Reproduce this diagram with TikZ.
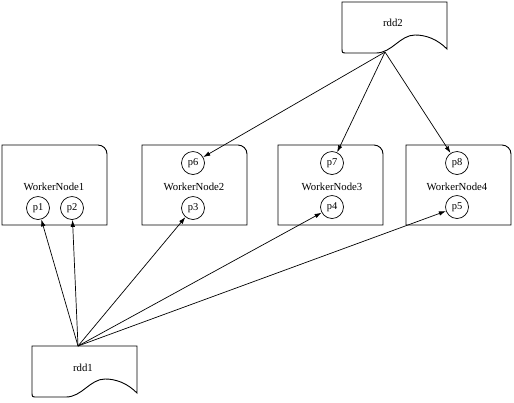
\documentclass[tikz,border=0pt]{standalone}
\usepackage{fontspec}
\setmainfont{Liberation Serif}
\usetikzlibrary{arrows.meta}
\tikzset{
  part/.style={circle,draw,line width=0.7bp,minimum size=23bp,inner sep=0pt,font=\fontsize{10.5}{12}\selectfont},
  lbl/.style={inner sep=0pt,font=\fontsize{10.8}{13}\selectfont},
  boxline/.style={line width=0.9bp},
  arr/.style={line width=0.7bp,-{Latex[length=7bp,width=4.5bp]}},
  docshape/.pic={
    \draw[boxline] (0,0) -- (105,0) -- (105,47) .. controls (95,37) and (84,33) .. (73,33)
      .. controls (58,33) and (50,51) .. (34,51) -- (5,51) .. controls (0,51) .. (0,46) -- cycle;
  }
}
\newcommand{\workerbox}[2]{%
  \draw[boxline] (#1,#2+80) -- (#1,#2) [rounded corners=9bp] -- (#1+105,#2) [sharp corners] -- (#1+105,#2+80) -- cycle;%
}
\begin{document}
\begin{tikzpicture}[x=1bp,y=-1bp]
\useasboundingbox (0,0) rectangle (514,402);
% worker boxes
\workerbox{2}{145}
\workerbox{142}{145}
\workerbox{278}{145}
\workerbox{406}{145}
% rdd shapes
\pic at (342,2) {docshape};
\pic at (32,346) {docshape};
\node[lbl] (rdd2) at (393,23) {rdd2};
\node[lbl] (rdd1) at (83,368) {rdd1};
\coordinate (o2) at (385,52);
\coordinate (o1) at (78,346);
% labels
\node[lbl] (wn1) at (54,187) {WorkerNode1};
\node[lbl] (wn2) at (194,187) {WorkerNode2};
\node[lbl] (wn3) at (332,187) {WorkerNode3};
\node[lbl] (wn4) at (457,187) {WorkerNode4};
% partitions
\node[part] (p1) at (38,208) {p1};
\node[part] (p2) at (72,208) {p2};
\node[part] (p6) at (193,163) {p6};
\node[part] (p3) at (193,208) {p3};
\node[part] (p7) at (332,163) {p7};
\node[part] (p4) at (332,207) {p4};
\node[part] (p8) at (457,163) {p8};
\node[part] (p5) at (457,207) {p5};
% arrows
\draw[arr] (o2) -- (p6);
\draw[arr] (o2) -- (p7);
\draw[arr] (o2) -- (p8);
\draw[arr] (o1) -- (p1);
\draw[arr] (o1) -- (p2);
\draw[arr] (o1) -- (p3);
\draw[arr] (o1) -- (p4);
\draw[arr] (o1) -- (p5);
\end{tikzpicture}
\end{document}
